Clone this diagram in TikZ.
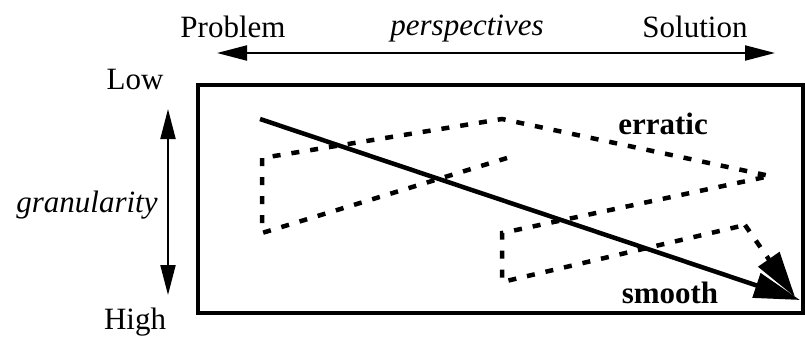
\documentclass[tikz,border=0pt]{standalone}
\usepackage{fontspec}
\setmainfont{Liberation Serif}
\usetikzlibrary{arrows.meta}
\begin{document}
\begin{tikzpicture}[x=1pt,y=-1pt,
  lbl/.style={inner sep=0pt,font=\fontsize{31}{34}\selectfont},
  dbl/.style={line width=2pt,{Triangle[length=30pt,width=15pt]}-{Triangle[length=30pt,width=15pt]}},
  dsh/.style={line width=4.5pt,dash pattern=on 8pt off 11pt},
  bigtip/.style={-{Triangle[length=46pt,width=25pt]}}]
\useasboundingbox (0,0) rectangle (805,338);
% labels
\node[lbl] (prob) at (233,27) {Problem};
\node[lbl] (persp) at (467,29) {\itshape perspectives};
\node[lbl] (sol) at (695,27) {Solution};
\node[lbl] (low) at (135,79) {Low};
\node[lbl] (high) at (135,322) {High};
\node[lbl] (gran) at (87,205) {\itshape granularity};
\node[lbl] (err) at (663,124) {\bfseries erratic};
\node[lbl] (smo) at (670,293) {\bfseries smooth};
% box
\draw[line width=3.5pt] (198,85) rectangle (803,313);
% axes
\coordinate (hL) at (217,53);
\coordinate (hR) at (775,53);
\draw[dbl] (hL) -- (hR);
\coordinate (vT) at (168,109);
\coordinate (vB) at (168,295);
\draw[dbl] (vT) -- (vB);
% erratic path
\coordinate (e0) at (507,158);
\coordinate (e1) at (262,233);
\coordinate (e2) at (262,158);
\coordinate (e3) at (502,119);
\coordinate (e4) at (770,176);
\coordinate (e5) at (502,233);
\coordinate (e6) at (502,282);
\coordinate (e7) at (745,225);
\coordinate (e8) at (795,297);
\draw[dsh] (e0) -- (e1) -- (e2) -- (e3) -- (e4) -- (e5) -- (e6) -- (e7);
\draw[dsh,bigtip] (e7) -- (e8);
% smooth arrow
\coordinate (s0) at (260,119);
\coordinate (s1) at (800,300);
\draw[line width=4.5pt,bigtip] (s0) -- (s1);
\end{tikzpicture}
\end{document}
